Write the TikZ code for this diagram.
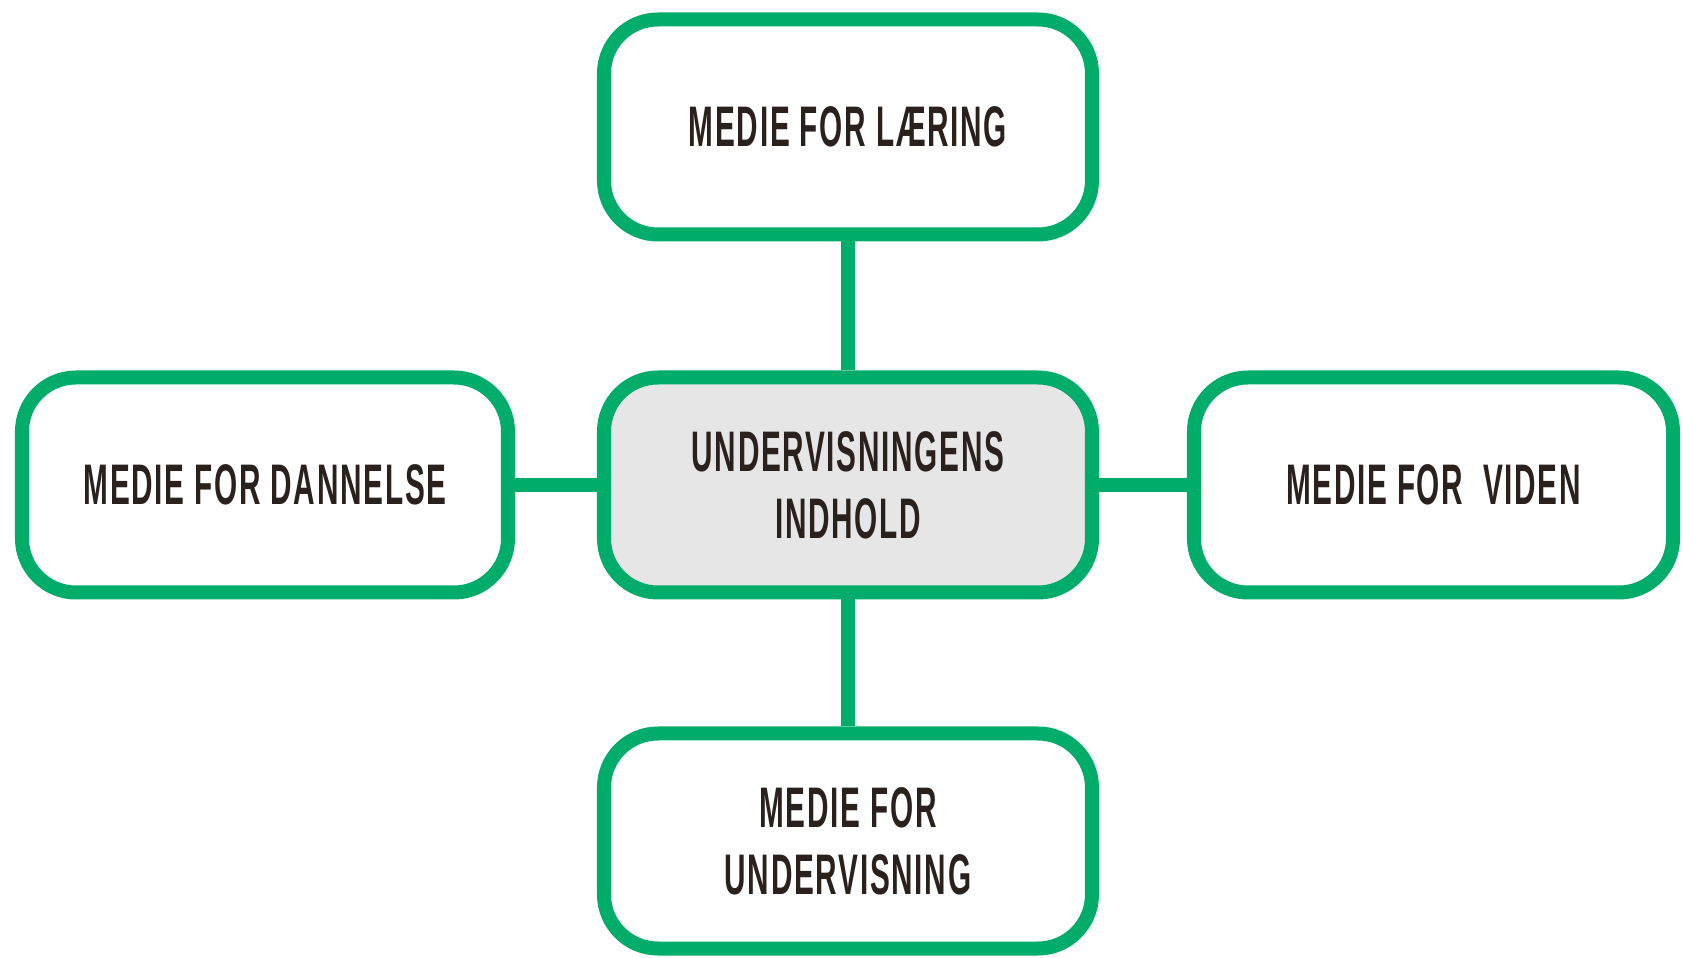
\documentclass[tikz,border=0pt]{standalone}
\usepackage{fontspec}
\setmainfont{Liberation Sans}[FakeStretch=0.52,LetterSpace=3]
\usetikzlibrary{shapes,positioning}
\definecolor{mediegreen}{RGB}{0,172,105}
\definecolor{indholdgray}{RGB}{230,230,230}
\definecolor{medietext}{RGB}{43,33,28}
\tikzstyle{medie} = [rectangle, draw=mediegreen, line width=7pt, fill=white,
    align=center, rounded corners=27pt, minimum width=244pt, minimum height=107.5pt,
    text=medietext, font=\fontsize{28.6pt}{33.5pt}\selectfont\bfseries]
\tikzstyle{indhold} = [medie, fill=indholdgray]
\tikzstyle{forbind} = [draw=mediegreen, line width=7pt]

\begin{document}
\begin{tikzpicture}
    \useasboundingbox (-424pt,-236.5pt) rectangle (417.5pt,242.5pt);

    \node[indhold] (indhold) at (0,0) {UNDERVISNINGENS\\INDHOLD};
    \node[medie,above=64.5pt of indhold] (laering) {MEDIE FOR LÆRING};
    \node[medie,below=63.5pt of indhold] (undervisning) {MEDIE FOR\\UNDERVISNING};
    \node[medie,left=41pt of indhold,minimum width=243pt] (dannelse) {MEDIE FOR DANNELSE};
    \node[medie,right=44pt of indhold,minimum width=239.5pt] (viden) {MEDIE FOR\ \ VIDEN};

    \path[forbind] (laering) -- (indhold);
    \path[forbind] (indhold) -- (undervisning);
    \path[forbind] (dannelse) -- (indhold);
    \path[forbind] (indhold) -- (viden);
\end{tikzpicture}
\end{document}
